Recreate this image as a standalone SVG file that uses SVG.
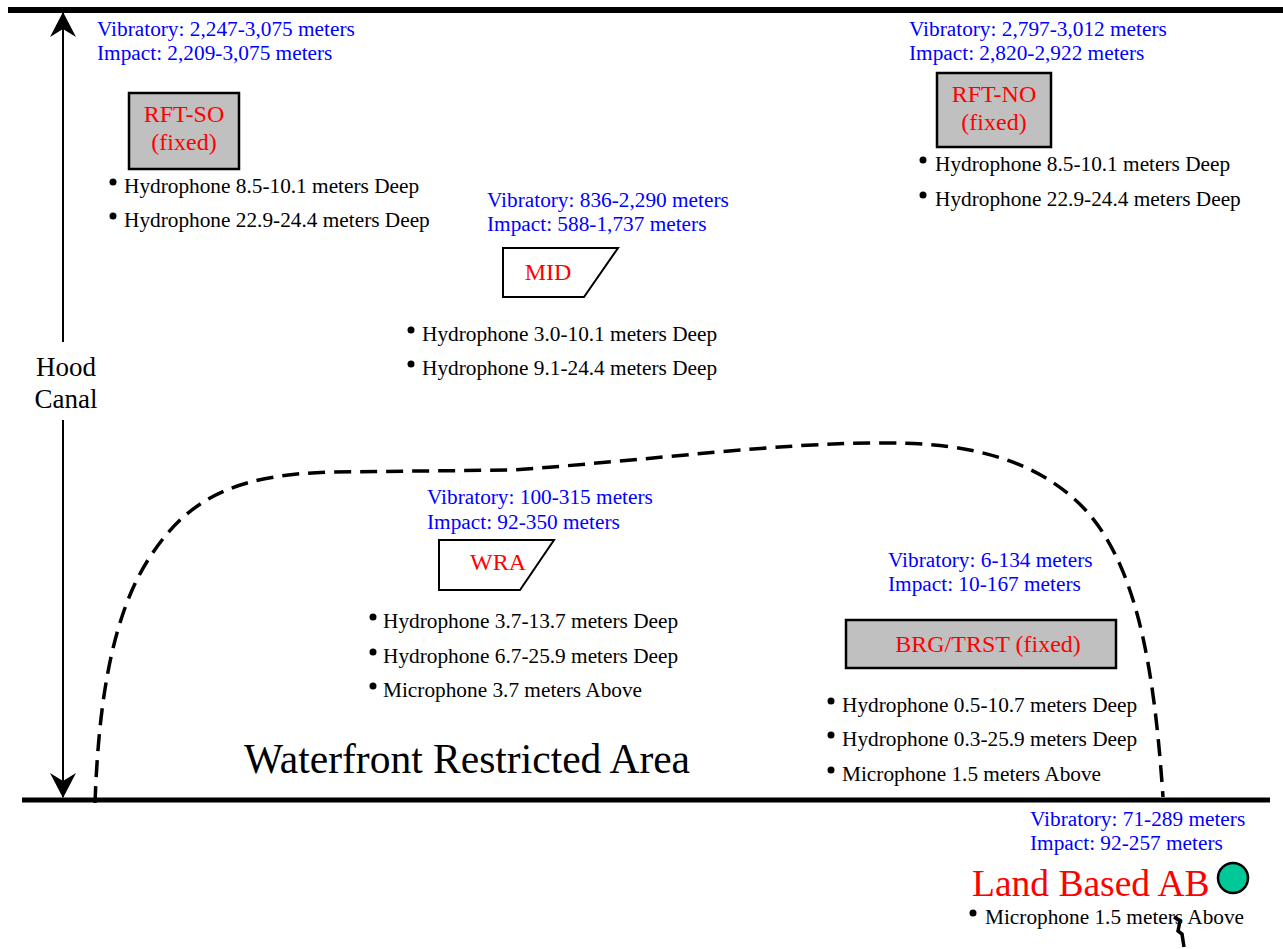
<svg xmlns="http://www.w3.org/2000/svg" width="1283" height="949" viewBox="0 0 1283 949">
<style>
text{font-family:"Liberation Serif","Times New Roman",serif}
.blue{fill:#0000FF;font-size:21.3px}
.item{fill:#000;font-size:21.3px}
.lbl{fill:#FF0000;font-size:24px;text-anchor:middle}
.gray{fill:#C0C0C0;stroke:#000;stroke-width:2.5}
.para{fill:#FFF;stroke:#000;stroke-width:2}
.bar{stroke:#000;fill:none}
</style>
<defs>
<marker id="arr" viewBox="0 0 26 26" refX="25" refY="13" markerWidth="26" markerHeight="26" markerUnits="userSpaceOnUse" orient="auto">
<path d="M26,13 L1,0 L9,13 L1,26 Z" fill="#000"/>
</marker>
</defs>
<rect width="1283" height="949" fill="#FFF"/>
<g id="connectors">
<line class="bar" x1="8" y1="10" x2="1283" y2="10" stroke-width="6"/>
<line class="bar" x1="22" y1="800" x2="1270" y2="800" stroke-width="5"/>
<line class="bar" x1="63" y1="342" x2="63" y2="13" stroke-width="2" marker-end="url(#arr)"/>
<line class="bar" x1="63" y1="420" x2="63" y2="797" stroke-width="2" marker-end="url(#arr)"/>
<path class="bar" d="M95,803 C98,720 108,620 150,557 C190,495 240,475 330,472 L513,470 C650,460 780,443 876,443 C975,441 1045,463 1090,515 C1140,575 1155,680 1163,797" stroke-width="3.5" stroke-dasharray="17 9"/>
<path class="bar" d="M1174,917 L1180,921 L1178,931 L1182,934 L1184,947" stroke-width="3.5"/>
</g>
<g id="hood-canal">
<text x="66" y="376" font-size="27" text-anchor="middle">Hood</text>
<text x="66" y="408" font-size="27" text-anchor="middle">Canal</text>
</g>
<g id="rft-so">
<text class="blue" x="97" y="36">Vibratory: 2,247-3,075 meters</text>
<text class="blue" x="97" y="60">Impact: 2,209-3,075 meters</text>
<rect class="gray" x="129" y="93" width="110" height="76"/>
<text class="lbl" x="184" y="122">RFT-SO</text>
<text class="lbl" x="184" y="150">(fixed)</text>
<circle cx="113" cy="182" r="3.5"/>
<text class="item" x="124" y="193">Hydrophone 8.5-10.1 meters Deep</text>
<circle cx="113" cy="216" r="3.5"/>
<text class="item" x="124" y="227">Hydrophone 22.9-24.4 meters Deep</text>
</g>
<g id="rft-no">
<text class="blue" x="909" y="36">Vibratory: 2,797-3,012 meters</text>
<text class="blue" x="909" y="60">Impact: 2,820-2,922 meters</text>
<rect class="gray" x="937" y="73" width="114" height="74"/>
<text class="lbl" x="994" y="102">RFT-NO</text>
<text class="lbl" x="994" y="130">(fixed)</text>
<circle cx="923" cy="160" r="3.5"/>
<text class="item" x="935" y="171">Hydrophone 8.5-10.1 meters Deep</text>
<circle cx="923" cy="195" r="3.5"/>
<text class="item" x="935" y="206">Hydrophone 22.9-24.4 meters Deep</text>
</g>
<g id="mid">
<text class="blue" x="487" y="207">Vibratory: 836-2,290 meters</text>
<text class="blue" x="487" y="231">Impact: 588-1,737 meters</text>
<polygon class="para" points="503,248 618,248 584,297 503,297"/>
<text class="lbl" x="548" y="280">MID</text>
<circle cx="411" cy="330" r="3.5"/>
<text class="item" x="422" y="341">Hydrophone 3.0-10.1 meters Deep</text>
<circle cx="411" cy="364" r="3.5"/>
<text class="item" x="422" y="375">Hydrophone 9.1-24.4 meters Deep</text>
</g>
<g id="wra">
<text class="blue" x="427" y="504">Vibratory: 100-315 meters</text>
<text class="blue" x="427" y="529">Impact: 92-350 meters</text>
<polygon class="para" points="439,540 554,540 520,590 439,590"/>
<text class="lbl" x="498" y="570">WRA</text>
<circle cx="373" cy="617" r="3.5"/>
<text class="item" x="383" y="628">Hydrophone 3.7-13.7 meters Deep</text>
<circle cx="373" cy="652" r="3.5"/>
<text class="item" x="383" y="663">Hydrophone 6.7-25.9 meters Deep</text>
<circle cx="373" cy="686" r="3.5"/>
<text class="item" x="383" y="697">Microphone 3.7 meters Above</text>
</g>
<g id="waterfront-label">
<text x="244" y="773" font-size="41.5">Waterfront Restricted Area</text>
</g>
<g id="brg-trst">
<text class="blue" x="888" y="567">Vibratory: 6-134 meters</text>
<text class="blue" x="888" y="591">Impact: 10-167 meters</text>
<rect class="gray" x="846" y="620" width="270" height="48"/>
<text class="lbl" x="988" y="652">BRG/TRST (fixed)</text>
<circle cx="831" cy="701" r="3.5"/>
<text class="item" x="842" y="712">Hydrophone 0.5-10.7 meters Deep</text>
<circle cx="831" cy="735" r="3.5"/>
<text class="item" x="842" y="746">Hydrophone 0.3-25.9 meters Deep</text>
<circle cx="831" cy="770" r="3.5"/>
<text class="item" x="842" y="781">Microphone 1.5 meters Above</text>
</g>
<g id="land-based-ab">
<text class="blue" x="1030" y="826">Vibratory: 71-289 meters</text>
<text class="blue" x="1030" y="850">Impact: 92-257 meters</text>
<text x="972" y="896" font-size="37.5" fill="#FF0000">Land Based AB</text>
<circle cx="1233" cy="878" r="15" fill="#00C896" stroke="#000" stroke-width="2.5"/>
<circle cx="973" cy="913" r="3.5"/>
<text class="item" x="985" y="924">Microphone 1.5 meters Above</text>
</g>
</svg>
